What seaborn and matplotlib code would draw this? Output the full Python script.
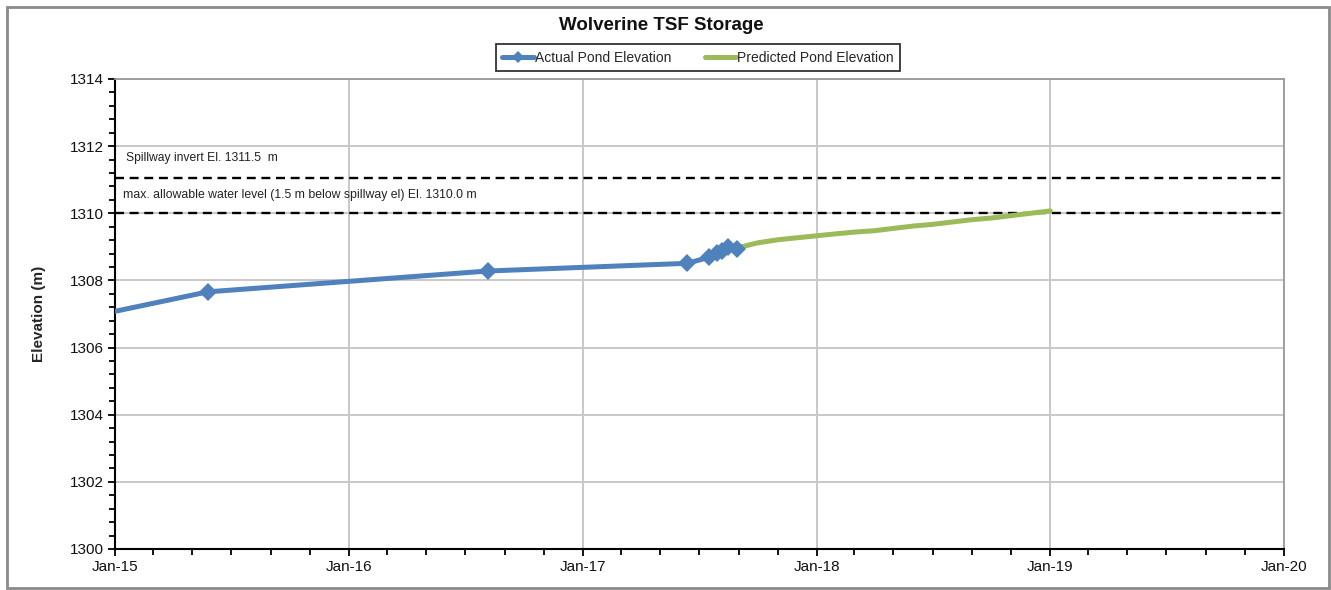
import matplotlib
matplotlib.use("Agg")
import matplotlib.pyplot as plt
import matplotlib.dates as mdates
from matplotlib.ticker import MultipleLocator
from matplotlib.lines import Line2D
from matplotlib.patches import Rectangle
import seaborn as sns
import pandas as pd

# ---- data ----
actual_dates = ["2015-01-01", "2015-05-26", "2016-08-05", "2017-06-13", "2017-07-17",
                "2017-07-29", "2017-08-06", "2017-08-16", "2017-08-30"]
actual_elev = [1307.08, 1307.66, 1308.28, 1308.51, 1308.69,
               1308.81, 1308.89, 1309.00, 1308.95]

pred_dates = ["2017-08-30", "2017-10-01", "2017-11-01", "2017-12-01", "2018-01-01",
              "2018-02-01", "2018-03-01", "2018-04-01", "2018-05-01", "2018-06-01",
              "2018-07-01", "2018-08-01", "2018-09-01", "2018-10-01", "2018-11-01",
              "2018-12-01", "2019-01-01"]
pred_elev = [1308.97, 1309.12, 1309.21, 1309.27, 1309.33,
             1309.39, 1309.44, 1309.48, 1309.55, 1309.62,
             1309.67, 1309.74, 1309.81, 1309.86, 1309.93,
             1310.00, 1310.07]

spillway_level = 1311.05
max_allowable = 1310.0
spillway_label = "Spillway invert El. 1311.5  m"
max_label = "max. allowable water level (1.5 m below spillway el) El. 1310.0 m"
title = "Wolverine TSF Storage"
y_label = "Elevation (m)"
series_names = ["Actual Pond Elevation", "Predicted Pond Elevation"]
x_range = ["2015-01-01", "2020-01-01"]
y_range = [1300, 1314]

df_a = pd.DataFrame({"date": pd.to_datetime(actual_dates), "elev": actual_elev})
df_p = pd.DataFrame({"date": pd.to_datetime(pred_dates), "elev": pred_elev})

blue = "#4F81BD"
green = "#9BBB59"

sns.set_theme(style="white")
plt.rcParams["font.family"] = ["Liberation Sans", "DejaVu Sans"]

fig = plt.figure(figsize=(13.31, 5.90), dpi=100)
ax = fig.add_axes([115/1331, 1-549/590, (1284-115)/1331, (549-79)/590])

ax.grid(True, which="major", color="#c8c8c8", linewidth=1.4, zorder=0)

ax.axhline(spillway_level, color="black", linestyle=(0, (3.8, 2.4)), linewidth=1.7, zorder=2)
ax.axhline(max_allowable, color="black", linestyle=(0, (3.8, 2.4)), linewidth=1.7, zorder=2)

sns.lineplot(data=df_p, x="date", y="elev", ax=ax, color=green, linewidth=3.6,
             estimator=None, sort=False, zorder=3)
sns.lineplot(data=df_a, x="date", y="elev", ax=ax, color=blue, linewidth=3.6,
             marker="D", markersize=9, markeredgewidth=0, markevery=slice(1, None),
             estimator=None, sort=False, zorder=4)

ax.set_xlim(pd.to_datetime(x_range[0]), pd.to_datetime(x_range[1]))
ax.set_ylim(*y_range)

ax.xaxis.set_major_locator(mdates.YearLocator())
ax.xaxis.set_major_formatter(mdates.DateFormatter("%b-%y"))
ax.xaxis.set_minor_locator(mdates.MonthLocator(bymonth=[3, 5, 7, 9, 11]))
ax.yaxis.set_major_locator(MultipleLocator(2))
ax.yaxis.set_minor_locator(MultipleLocator(0.4))

ax.tick_params(axis="both", which="major", direction="out", length=5, width=1.3,
               color="black", labelsize=11, labelcolor="#111111", pad=3)
ax.tick_params(axis="both", which="minor", direction="out", length=4, width=1.3,
               color="black")
ax.tick_params(axis="x", which="both", bottom=True)
ax.tick_params(axis="y", which="both", left=True)

for s in ["left", "bottom"]:
    ax.spines[s].set_color("black")
    ax.spines[s].set_linewidth(1.5)
for s in ["top", "right"]:
    ax.spines[s].set_color("#9a9a9a")
    ax.spines[s].set_linewidth(1.3)
    ax.spines[s].set_visible(True)

ax.set_xlabel("")
ax.set_ylabel(y_label, fontsize=11, fontweight="bold", labelpad=17)

ax.text(0.009, 0.832, spillway_label, transform=ax.transAxes, fontsize=8.7,
        va="center", ha="left", color="#222222")
ax.text(0.007, 0.753, max_label, transform=ax.transAxes, fontsize=8.8,
        va="center", ha="left", color="#222222")

fig.text(661/1331, 1 - 26/590, title, ha="center", va="center",
         fontsize=13.5, fontweight="bold", color="#111111")

handles = [Line2D([], [], color=blue, linewidth=3.6, marker="D", markersize=6,
                  markeredgewidth=0),
           Line2D([], [], color=green, linewidth=3.6)]
leg = fig.legend(handles, series_names, loc="center", ncol=2,
                 bbox_to_anchor=(698/1331, 1 - 57.5/590), frameon=True, fontsize=10,
                 handlelength=2.3, handletextpad=0.05, columnspacing=2.4,
                 borderpad=0.45, fancybox=False, edgecolor="black")
leg.get_frame().set_linewidth(1.3)

fig.patches.append(Rectangle((7/1331, 2/590), 1322/1331, 581/590, transform=fig.transFigure,
                             fill=False, edgecolor="#8a8a8a", linewidth=2))

fig.savefig("out.png", dpi=100)
